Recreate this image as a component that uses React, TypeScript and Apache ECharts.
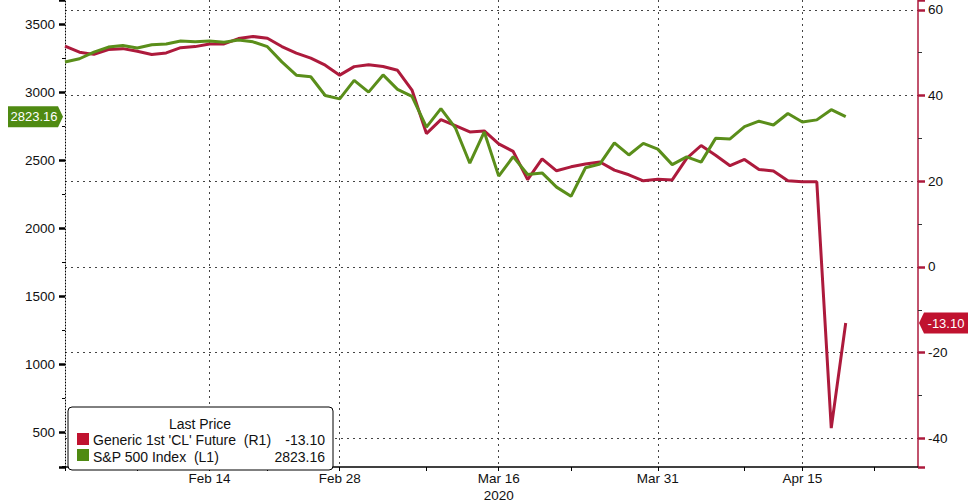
import React, { useEffect, useRef } from "react";
import * as echarts from "echarts";

const dates = [
  "Jan 31", "Feb 3", "Feb 4", "Feb 5", "Feb 6", "Feb 7", "Feb 10", "Feb 11", "Feb 12", "Feb 13",
  "Feb 14", "Feb 18", "Feb 19", "Feb 20", "Feb 21", "Feb 24", "Feb 25", "Feb 26", "Feb 27", "Feb 28",
  "Mar 2", "Mar 3", "Mar 4", "Mar 5", "Mar 6", "Mar 9", "Mar 10", "Mar 11", "Mar 12", "Mar 13",
  "Mar 16", "Mar 17", "Mar 18", "Mar 19", "Mar 20", "Mar 23", "Mar 24", "Mar 25", "Mar 26", "Mar 27",
  "Mar 30", "Mar 31", "Apr 1", "Apr 2", "Apr 3", "Apr 6", "Apr 7", "Apr 8", "Apr 9", "Apr 13",
  "Apr 14", "Apr 15", "Apr 16", "Apr 17", "Apr 20", "Apr 21", "Apr 22", "Apr 23", "Apr 24", "Apr 27",
];

const spxValues = [
  3225.52, 3248.92, 3297.59, 3334.69, 3345.78, 3327.71, 3352.09, 3357.75, 3379.45, 3373.94,
  3380.16, 3370.29, 3386.15, 3373.23, 3337.75, 3225.89, 3128.21, 3116.39, 2978.76, 2954.22,
  3090.23, 3003.37, 3130.12, 3023.94, 2972.37, 2746.56, 2882.23, 2741.38, 2480.64, 2711.02,
  2386.13, 2529.19, 2398.1, 2409.39, 2304.92, 2237.4, 2447.33, 2475.56, 2630.07, 2541.47,
  2626.65, 2584.59, 2470.5, 2526.9, 2488.65, 2663.68, 2659.41, 2749.98, 2789.82, 2761.63,
  2846.06, 2783.36, 2799.55, 2874.56, 2823.16,
];

const oilValues = [
  51.56, 50.11, 49.61, 50.75, 50.95, 50.32, 49.57, 49.94, 51.17, 51.42,
  52.05, 52.05, 53.29, 53.78, 53.38, 51.43, 49.9, 48.73, 47.09, 44.76,
  46.75, 47.18, 46.78, 45.9, 41.28, 31.13, 34.36, 32.98, 31.5, 31.73,
  28.7, 26.95, 20.37, 25.22, 22.43, 23.36, 24.01, 24.49, 22.6, 21.51,
  20.09, 20.48, 20.31, 25.32, 28.34, 26.08, 23.63, 25.09, 22.76, 22.41,
  20.11, 19.87, 19.87, -37.63, -13.1,
];

const labeledDates = ["Feb 14", "Feb 28", "Mar 16", "Mar 31", "Apr 15"];
const tickDates = ["Jan 31", "Feb 7", "Feb 14", "Feb 21", "Feb 28", "Mar 9", "Mar 16", "Mar 23", "Mar 31", "Apr 8", "Apr 15", "Apr 22"];
const yearLabelDate = "Mar 16";
const yearLabel = "2020";

const oilName = "Generic 1st 'CL' Future  (R1)";
const spxName = "S&P 500 Index  (L1)";
const legendTitle = "Last Price";
const oilLast = -13.1;
const spxLast = 2823.16;

const leftMin = 247;
const leftMax = 3681;
const rightMin = -46.7;
const rightMax = 62.3;

const RED = "#ad1a3c";
const GREEN = "#5a8e1a";
const BADGE_RED = "#c0122f";
const BADGE_GREEN = "#4f8a12";
const FONT = "'Liberation Sans', Arial, sans-serif";

export default function App() {
  const ref = useRef<HTMLDivElement>(null);

  useEffect(() => {
    document.body.style.margin = "0";
    if (!ref.current) return;
    const chart = echarts.init(ref.current, null, { renderer: "svg" });

    chart.setOption({
      animation: false,
      backgroundColor: "#ffffff",
      textStyle: { fontFamily: FONT },
      grid: { left: 65, right: 58, top: 0, bottom: 29, containLabel: false },
      xAxis: {
        type: "category",
        data: dates,
        boundaryGap: false,
        axisLine: { show: true, onZero: false, lineStyle: { color: "#000", width: 1.5 } },
        axisTick: {
          show: true,
          length: 4,
          interval: (i: number, v: string) => tickDates.includes(v),
          lineStyle: { color: "#000", width: 1 },
        },
        axisLabel: {
          interval: (i: number, v: string) => labeledDates.includes(v),
          color: "#111",
          fontSize: 13.5,
          fontFamily: FONT,
          margin: 3,
          lineHeight: 17,
          formatter: (v: string) => (v === yearLabelDate ? v + "\n" + yearLabel : v),
        },
        splitLine: {
          show: true,
          interval: (i: number, v: string) => labeledDates.includes(v),
          lineStyle: { color: "#444", type: [2, 4], width: 1 },
        },
      },
      yAxis: [
        {
          type: "value",
          position: "left",
          min: leftMin,
          max: leftMax,
          splitNumber: 7,
          axisLine: { show: true, onZero: false, lineStyle: { color: "#000", type: [1, 2], width: 1 } },
          axisTick: { show: true, length: 6, lineStyle: { color: "#000", width: 2.5 } },
          minorTick: { show: true, splitNumber: 2, length: 3, lineStyle: { color: "#000", width: 1 } },
          axisLabel: {
            color: "#111",
            fontSize: 13.5,
            fontFamily: FONT,
            margin: 10,
            showMinLabel: false,
            showMaxLabel: false,
            formatter: (v: number) => String(Math.round(v)),
          },
          splitLine: { show: false },
        },
        {
          type: "value",
          position: "right",
          min: rightMin,
          max: rightMax,
          splitNumber: 5,
          axisLine: { show: true, onZero: false, lineStyle: { color: RED, width: 1.5 } },
          axisTick: { show: true, length: 7, lineStyle: { color: RED, width: 2.5 } },
          minorTick: { show: true, splitNumber: 2, length: 4, lineStyle: { color: "#333", width: 1 } },
          axisLabel: {
            color: "#111",
            fontSize: 13.5,
            fontFamily: FONT,
            margin: 10,
            showMinLabel: false,
            showMaxLabel: false,
            formatter: (v: number) => String(Math.round(v)),
          },
          splitLine: {
            show: true,
            showMinLine: false,
            showMaxLine: false,
            lineStyle: { color: "#444", type: [2, 4], width: 1 },
          },
        },
      ],
      series: [
        {
          name: oilName,
          type: "line",
          yAxisIndex: 1,
          data: oilValues,
          symbol: "none",
          lineStyle: { color: RED, width: 3 },
          itemStyle: { color: RED },
          z: 3,
        },
        {
          name: spxName,
          type: "line",
          yAxisIndex: 0,
          data: spxValues,
          symbol: "none",
          lineStyle: { color: GREEN, width: 3 },
          itemStyle: { color: GREEN },
          z: 4,
        },
      ],
    });

    const yL = chart.convertToPixel({ yAxisIndex: 0 }, spxLast) as number;
    const yR = chart.convertToPixel({ yAxisIndex: 1 }, oilLast) as number;
    const xR = chart.getWidth() - 58;

    const legendX = 68;
    const legendY = 407;
    const legendFont = `14px ${FONT}`;

    chart.setOption({
      graphic: [
        {
          type: "polygon",
          shape: { points: [[8, yL - 10.5], [58, yL - 10.5], [63, yL], [58, yL + 10.5], [8, yL + 10.5]] },
          style: { fill: BADGE_GREEN },
          z: 10,
        },
        {
          type: "text",
          x: 34,
          y: yL,
          style: { text: spxLast.toFixed(2), fill: "#fff", font: `13px ${FONT}`, align: "center", verticalAlign: "middle" },
          z: 11,
        },
        {
          type: "polygon",
          shape: { points: [[xR + 1, yR], [xR + 6, yR - 10.5], [xR + 50, yR - 10.5], [xR + 50, yR + 10.5], [xR + 6, yR + 10.5]] },
          style: { fill: BADGE_RED },
          z: 10,
        },
        {
          type: "text",
          x: xR + 28,
          y: yR,
          style: { text: oilLast.toFixed(2), fill: "#fff", font: `13px ${FONT}`, align: "center", verticalAlign: "middle" },
          z: 11,
        },
        {
          type: "rect",
          shape: { x: legendX, y: legendY, width: 265, height: 63, r: 4 },
          style: { fill: "#fff", stroke: "#000", lineWidth: 1 },
          z: 20,
        },
        {
          type: "text",
          x: legendX + 132,
          y: legendY + 17,
          style: { text: legendTitle, fill: "#111", font: legendFont, align: "center", verticalAlign: "middle" },
          z: 21,
        },
        {
          type: "rect",
          shape: { x: legendX + 9, y: legendY + 26, width: 12, height: 12 },
          style: { fill: BADGE_RED },
          z: 21,
        },
        {
          type: "text",
          x: legendX + 25,
          y: legendY + 33,
          style: { text: oilName, fill: "#111", font: legendFont, align: "left", verticalAlign: "middle" },
          z: 21,
        },
        {
          type: "text",
          x: legendX + 257,
          y: legendY + 33,
          style: { text: oilLast.toFixed(2), fill: "#111", font: legendFont, align: "right", verticalAlign: "middle" },
          z: 21,
        },
        {
          type: "rect",
          shape: { x: legendX + 9, y: legendY + 42, width: 12, height: 12 },
          style: { fill: BADGE_GREEN },
          z: 21,
        },
        {
          type: "text",
          x: legendX + 25,
          y: legendY + 50,
          style: { text: spxName, fill: "#111", font: legendFont, align: "left", verticalAlign: "middle" },
          z: 21,
        },
        {
          type: "text",
          x: legendX + 257,
          y: legendY + 50,
          style: { text: spxLast.toFixed(2), fill: "#111", font: legendFont, align: "right", verticalAlign: "middle" },
          z: 21,
        },
      ],
    });

    return () => chart.dispose();
  }, []);

  return <div ref={ref} style={{ width: 976, height: 504 }} />;
}
